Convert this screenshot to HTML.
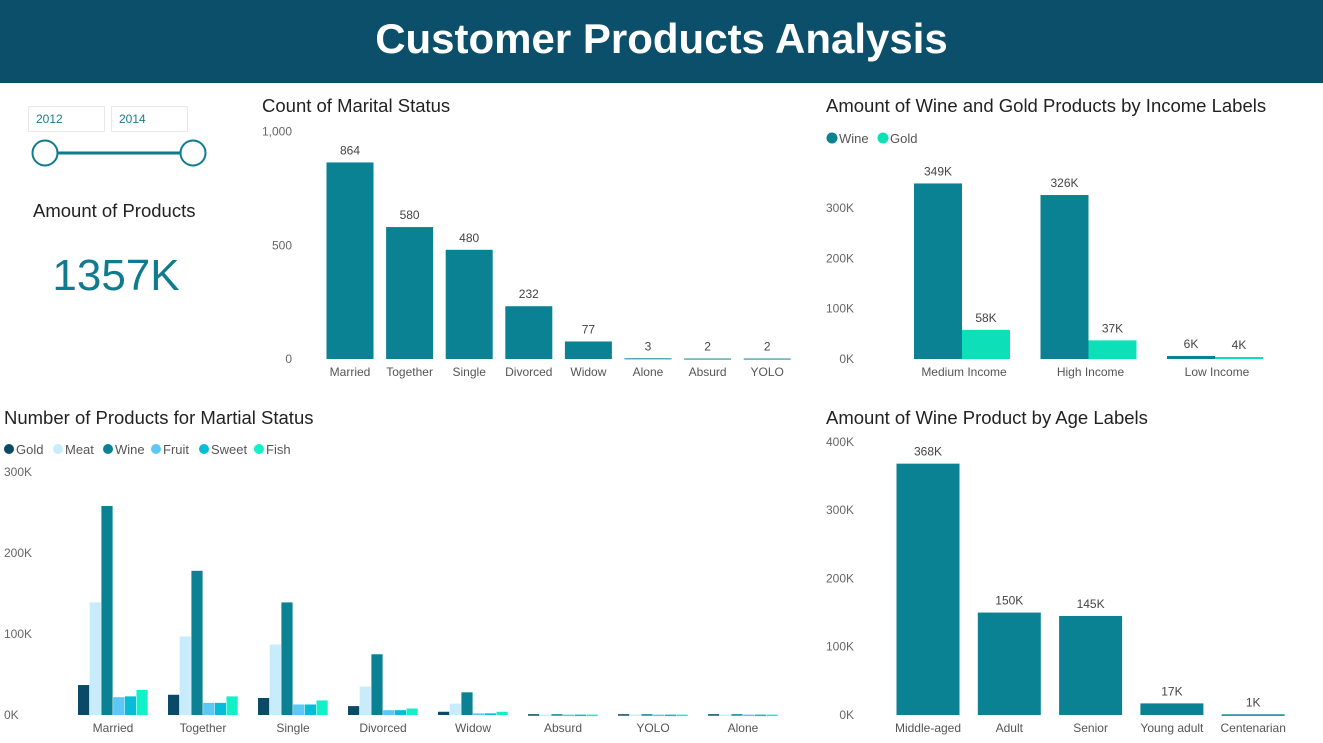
<!DOCTYPE html>
<html><head><meta charset="utf-8"><style>
body{margin:0;width:1323px;height:743px;overflow:hidden;background:#fff;font-family:"Liberation Sans",sans-serif;position:relative}
.hdr{position:absolute;left:0;top:0;width:1323px;height:83px;background:#0b4f6b;color:#fff;font-weight:bold;font-size:42px;text-align:center;line-height:78px}
svg{position:absolute;left:0;top:0}
text{font-family:"Liberation Sans",sans-serif}
.box{position:absolute;border:1px solid #e8e8e8;font-size:12px;color:#1a7a8c;padding-left:7px;line-height:24px;height:24px;width:68px}
</style></head><body>
<div class="hdr">Customer Products Analysis</div>
<div class="box" style="left:28px;top:106px">2012</div>
<div class="box" style="left:111px;top:106px">2014</div>
<svg id="s" width="1323" height="743" xmlns="http://www.w3.org/2000/svg">
<g>
<line x1="58" y1="153" x2="180" y2="153" stroke="#0e7c8e" stroke-width="3"/>
<circle cx="45" cy="153" r="12.5" fill="#fff" stroke="#0e7c8e" stroke-width="2"/>
<circle cx="193" cy="153" r="12.5" fill="#fff" stroke="#0e7c8e" stroke-width="2"/>
</g>
<text x="33" y="217" font-size="18.5" fill="#222">Amount of Products</text>
<text x="116" y="290" font-size="44" fill="#0e7c8e" text-anchor="middle">1357K</text>
<text x="262" y="112" font-size="18.5" fill="#222">Count of Marital Status</text>
<text x="826" y="112" font-size="18.5" fill="#222">Amount of Wine and Gold Products by Income Labels</text>
<text x="4" y="424" font-size="18.5" fill="#222">Number of Products for Martial Status</text>
<text x="826" y="424" font-size="18.5" fill="#222">Amount of Wine Product by Age Labels</text>
<g id="g1"></g><g id="g2"></g><g id="g3"></g><g id="g4"></g>
</svg>
<script>
const NS="http://www.w3.org/2000/svg";
function el(par,tag,attrs,txt){const e=document.createElementNS(NS,tag);for(const k in attrs)e.setAttribute(k,attrs[k]);if(txt!==undefined)e.textContent=txt;par.appendChild(e);return e;}
const C_TEAL="#0a8294";

// Chart 1: count of marital status
const msCats=["Married","Together","Single","Divorced","Widow","Alone","Absurd","YOLO"];
const msCounts=[864,580,480,232,77,3,2,2];
const msTicks=[0,500,1000];
const msTickLabels=["0","500","1,000"];
(function(){
 const g=document.getElementById('g1');
 const y=v=>359-v*0.2275, x0=350, step=59.6, bw=47;
 msTicks.forEach((t,i)=>{const e=el(g,'text',{x:292,y:y(t)+4,'font-size':12,fill:'#666','text-anchor':'end'},msTickLabels[i]);
 
 });
 msCats.forEach((c,i)=>{const cx=x0+i*step,v=msCounts[i];
  const r=el(g,'rect',{x:cx-bw/2,y:y(v),width:bw,height:Math.max(v*0.2275,1),fill:C_TEAL});
  
  
  const l=el(g,'text',{x:cx,y:y(v)-8,'font-size':12,fill:'#444','text-anchor':'middle'},String(v));
  
  
  const t=el(g,'text',{x:cx,y:376,'font-size':12,fill:'#555','text-anchor':'middle'},c);
  
  });
})();

// Chart 2: wine and gold by income
const incCats=["Medium Income","High Income","Low Income"];
const incWine=[349,326,6];
const incGold=[58,37,4];
const incTicks=[0,100,200,300];
(function(){
 const g=document.getElementById('g2');
 const y=v=>359-v*0.503, x0=962, step=126.5, bw=48;
 const lg=[["Wine",C_TEAL,826],["Gold","#0de0b8",877]];
 lg.forEach(l=>{const c=el(g,'circle',{cx:l[2]+6,cy:138,r:5.5,fill:l[1]});
  
  
  const t=el(g,'text',{x:l[2]+13,y:143,'font-size':13,fill:'#555'},l[0]);
  
  });
 incTicks.forEach(t=>{const e=el(g,'text',{x:854,y:y(t)+4,'font-size':12,fill:'#666','text-anchor':'end'},t+'K');
  
  });
 incCats.forEach((c,i)=>{const cx=x0+i*step;
  [[incWine[i],cx-bw,C_TEAL,'wine'],[incGold[i],cx,'#0de0b8','gold']].forEach(s=>{
   const r=el(g,'rect',{x:s[1],y:y(s[0]),width:bw,height:Math.max(s[0]*0.503,1.5),fill:s[2]});
   
   
   const l=el(g,'text',{x:s[1]+bw/2,y:y(s[0])-8,'font-size':12,fill:'#444','text-anchor':'middle'},s[0]+'K');
   
   });
  const t=el(g,'text',{x:cx+2,y:376,'font-size':12,fill:'#555','text-anchor':'middle'},c);
  
  });
})();

// Chart 3: products by marital status
const pmCats=["Married","Together","Single","Divorced","Widow","Absurd","YOLO","Alone"];
const pmSeries=["Gold","Meat","Wine","Fruit","Sweet","Fish"];
const pmColors=["#0b4a66","#c8ecfb","#0a8294","#5bc8f5","#08bcd8","#12f0c8"];
const pmGold=[37,25,21,11,4,1,1,1];
const pmMeat=[139,97,87,35,14,0.5,0.5,0.5];
const pmWine=[258,178,139,75,28,1,1,1];
const pmFruit=[22,15,13,6,2,0.5,0.5,0.5];
const pmSweet=[23,15,13,6,2,0.5,0.5,0.5];
const pmFish=[31,23,18,8,4,0.5,0.5,0.5];
const pmTicks=[0,100,200,300];
(function(){
 const g=document.getElementById('g3');
 const data=[pmGold,pmMeat,pmWine,pmFruit,pmSweet,pmFish];
 const y=v=>715-v*0.81, x0=113, step=90, bw=11.7;
 const lx=[4,53,103,151,199,254];
 pmSeries.forEach((s,i)=>{const c=el(g,'circle',{cx:lx[i]+5,cy:449,r:5,fill:pmColors[i]});
  
  
  const t=el(g,'text',{x:lx[i]+12,y:454,'font-size':13,fill:'#555'},s);
  
  });
 pmTicks.forEach(t=>{const e=el(g,'text',{x:4,y:y(t)+4,'font-size':12,fill:'#666'},t+'K');
  
  });
 pmCats.forEach((c,i)=>{const cx=x0+i*step;
  data.forEach((arr,j)=>{const v=arr[i];
   const r=el(g,'rect',{x:cx-35+j*bw,y:y(v),width:bw-0.5,height:Math.max(v*0.81,1.5),fill:pmColors[j]});
   
   });
  const t=el(g,'text',{x:cx,y:732,'font-size':12,fill:'#555','text-anchor':'middle'},c);
  
  });
})();

// Chart 4: wine by age
const ageCats=["Middle-aged","Adult","Senior","Young adult","Centenarian"];
const ageWine=[368,150,145,17,1];
const ageTicks=[0,100,200,300,400];
(function(){
 const g=document.getElementById('g4');
 const y=v=>715-v*0.683, x0=928, step=81.3, bw=63;
 ageTicks.forEach(t=>{const e=el(g,'text',{x:854,y:y(t)+4,'font-size':12,fill:'#666','text-anchor':'end'},t+'K');
  
  });
 ageCats.forEach((c,i)=>{const cx=x0+i*step,v=ageWine[i];
  const r=el(g,'rect',{x:cx-bw/2,y:y(v),width:bw,height:Math.max(v*0.683,1.5),fill:C_TEAL});
  
  
  const l=el(g,'text',{x:cx,y:y(v)-8,'font-size':12,fill:'#444','text-anchor':'middle'},v+'K');
  
  
  const t=el(g,'text',{x:cx,y:732,'font-size':12,fill:'#555','text-anchor':'middle'},c);
  
  });
})();
</script>
</body></html>
